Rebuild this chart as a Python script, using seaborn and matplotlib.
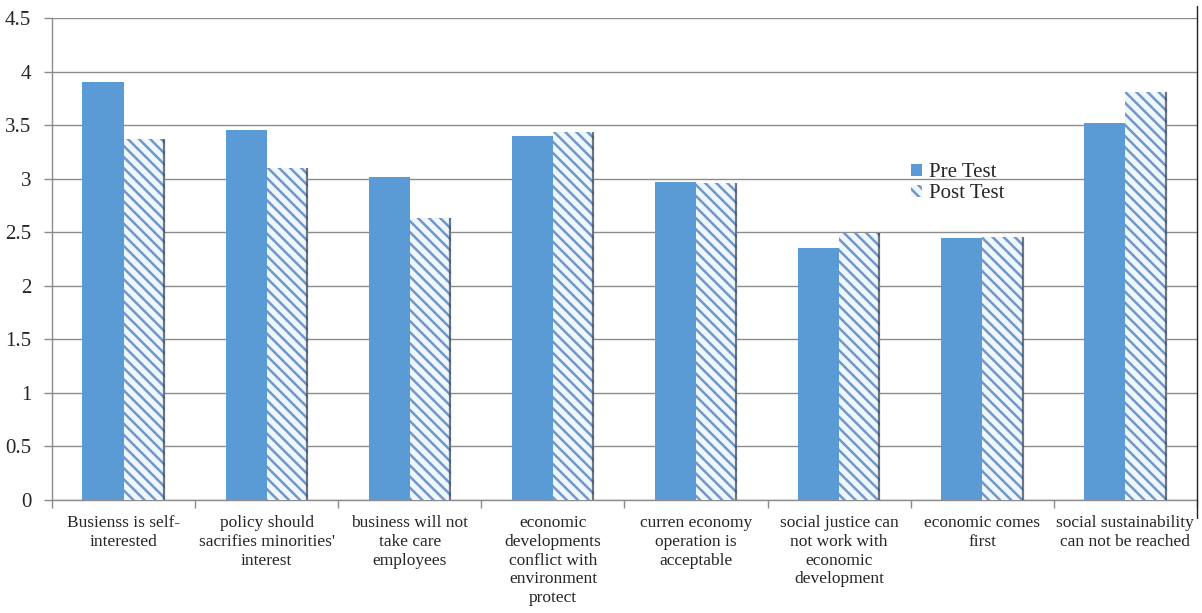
import matplotlib
matplotlib.use("Agg")
import matplotlib.pyplot as plt
import matplotlib.lines as mlines
from matplotlib.patches import Patch
import seaborn as sns
import pandas as pd

# Survey items and mean scores
categories = [
    "Busienss is self-interested",
    "policy should sacrifies minorities' interest",
    "business will not take care employees",
    "economic developments conflict with environment protect",
    "curren economy operation is acceptable",
    "social justice can not work with economic development",
    "economic comes first",
    "social sustainability can not be reached",
]
tick_labels = [
    "Busienss is self-\ninterested",
    "policy should\nsacrifies minorities'\ninterest",
    "business will not\ntake care\nemployees",
    "economic\ndevelopments\nconflict with\nenvironment\nprotect",
    "curren economy\noperation is\nacceptable",
    "social justice can\nnot work with\neconomic\ndevelopment",
    "economic comes\nfirst",
    "social sustainability\ncan not be reached",
]
pre_test = [3.90, 3.45, 3.02, 3.40, 2.97, 2.35, 2.45, 3.52]
post_test = [3.37, 3.10, 2.63, 3.44, 2.96, 2.49, 2.46, 3.81]
groups = ["Pre Test", "Post Test"]
y_ticks = [0, 0.5, 1, 1.5, 2, 2.5, 3, 3.5, 4, 4.5]
y_tick_labels = ["0", "0.5", "1", "1.5", "2", "2.5", "3", "3.5", "4", "4.5"]

df = pd.DataFrame({
    "item": categories * 2,
    "group": [groups[0]] * len(categories) + [groups[1]] * len(categories),
    "score": pre_test + post_test,
})

sns.set_theme(style="white")
plt.rcParams["font.family"] = ["Liberation Serif", "DejaVu Serif"]
plt.rcParams["hatch.linewidth"] = 1.8

pre_color = "#5B9BD5"
hatch_color = "#7397C6"
post_face = "#EEF7FD"

fig = plt.figure(figsize=(12.02, 6.13), dpi=100)
ax = fig.add_axes([0.0433, 0.1843, 0.9525, 0.7863])

sns.barplot(data=df, x="item", y="score", hue="group", hue_order=groups,
            palette=[pre_color, post_face], width=0.575, saturation=1,
            legend=False, ax=ax, errorbar=None, zorder=3)

# Striped fill for the post-test bars, with a dark shaded right rim
for bar in ax.containers[1]:
    bar.set_hatch("\\\\\\")
    bar.set_edgecolor(hatch_color)
    bar.set_linewidth(0)
    x_right = bar.get_x() + bar.get_width()
    ax.plot([x_right - 0.006, x_right - 0.006], [0, bar.get_height()],
            color="#3E4B5C", lw=1.6, alpha=0.75, zorder=4,
            solid_capstyle="butt")
for bar in ax.containers[0]:
    bar.set_linewidth(0)

ax.set_ylim(0, 4.5)
ax.set_xlim(-0.5, len(categories) - 0.5)
ax.set_yticks(y_ticks)
ax.set_yticklabels(y_tick_labels, fontsize=15)
ax.set_xticks(range(len(categories)))
ax.set_xticklabels(tick_labels, fontsize=12.5, linespacing=1.22)
ax.set_xlabel("")
ax.set_ylabel("")

ax.yaxis.grid(True, color="#8C8C8C", lw=1.0, zorder=0)
ax.set_axisbelow(True)

# Category-boundary ticks on the x axis
ax.set_xticks([i - 0.5 for i in range(len(categories) + 1)], minor=True)
ax.tick_params(axis="x", which="major", length=0, pad=11)
ax.tick_params(axis="x", which="minor", length=6, color="#8C8C8C", width=1,
               direction="out", bottom=True)
ax.tick_params(axis="y", length=6, color="#8C8C8C", width=1,
               direction="out", left=True, pad=9)

for side in ["top", "right"]:
    ax.spines[side].set_visible(False)
for side in ["left", "bottom"]:
    ax.spines[side].set_color("#8C8C8C")
    ax.spines[side].set_linewidth(1.0)

# Legend
handles = [
    Patch(facecolor=pre_color, edgecolor="none"),
    Patch(facecolor=post_face, edgecolor=hatch_color, hatch="\\\\\\", linewidth=0),
]
ax.legend(handles, groups, loc="upper left", bbox_to_anchor=(0.741, 0.72),
          frameon=False, fontsize=15, handlelength=0.55, handleheight=0.55,
          handletextpad=0.3, labelspacing=0.1, borderpad=0)

# Outer frame line on the right
fig.add_artist(mlines.Line2D([0.9958, 0.9958], [0.155, 0.99],
                             color="#222222", lw=1.0,
                             transform=fig.transFigure))

fig.savefig("out.png", dpi=100)
